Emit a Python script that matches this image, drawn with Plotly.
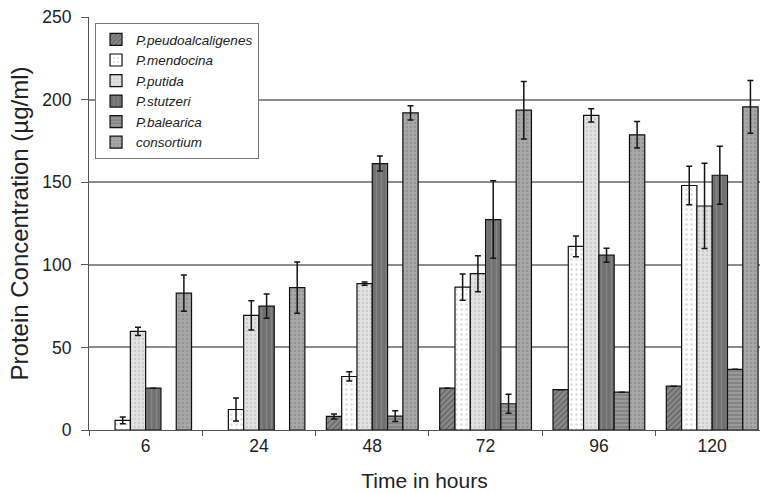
import plotly.graph_objects as go

hours = ["6", "24", "48", "72", "96", "120"]
series_names = ["P.peudoalcaligenes", "P.mendocina", "P.putida", "P.stutzeri", "P.balearica", "consortium"]

pseudo = [None, None, 8.2, 25.3, 24.4, 26.5]
pseudo_err = [None, None, 1.5, None, None, None]
mendocina = [5.8, 12.4, 32.4, 86.5, 111.2, 148.0]
mendocina_err = [2.0, 7.0, 2.8, 8.0, 6.3, 11.7]
putida = [59.7, 69.4, 88.6, 94.6, 190.4, 135.6]
putida_err = [2.5, 8.9, 1.0, 10.9, 4.0, 25.8]
stutzeri = [25.3, 75.0, 161.3, 127.4, 105.8, 154.2]
stutzeri_err = [None, 7.4, 4.5, 23.5, 4.2, 17.5]
balearica = [None, None, 8.4, 15.9, 22.9, 36.7]
balearica_err = [None, None, 3.3, 5.8, None, None]
consortium = [82.9, 86.2, 192.0, 193.6, 178.7, 195.6]
consortium_err = [11.0, 15.5, 4.3, 17.4, 8.0, 16.0]

values = [pseudo, mendocina, putida, stutzeri, balearica, consortium]
errors = [pseudo_err, mendocina_err, putida_err, stutzeri_err, balearica_err, consortium_err]

styles = [
    dict(bg="#8a8a8a", fg="#3a3a3a", shape="/", size=4, solidity=0.35),
    dict(bg="#ffffff", fg="#b5b5b5", shape=".", size=5, solidity=0.2),
    dict(bg="#e2e2e2", fg="#b0b0b0", shape=".", size=4, solidity=0.25),
    dict(bg="#707070", fg="#9a9a9a", shape="|", size=5, solidity=0.3),
    dict(bg="#9a9a9a", fg="#5a5a5a", shape="-", size=4, solidity=0.35),
    dict(bg="#a8a8a8", fg="#808080", shape=".", size=4, solidity=0.3),
]

fig = go.Figure()
for name, vals, errs, st in zip(series_names, values, errors, styles):
    fig.add_trace(go.Bar(
        name=name, x=hours, y=vals,
        marker=dict(color=st["bg"],
                    line=dict(color="#111111", width=1.2),
                    pattern=dict(shape=st["shape"], fgcolor=st["fg"], bgcolor=st["bg"],
                                 size=st["size"], solidity=st["solidity"], fillmode="overlay")),
        error_y=dict(type="data", array=errs, visible=True, color="#151515",
                     thickness=1.5, width=3),
    ))

fig.update_layout(
    width=760, height=493,
    margin=dict(l=89, r=0, t=17, b=63),
    paper_bgcolor="white", plot_bgcolor="white",
    barmode="group", bargap=0.19, bargroupgap=0,
    font=dict(family="Liberation Sans, Arial, sans-serif", color="#222222"),
    showlegend=True,
    legend=dict(x=0.009, y=0.985, xanchor="left", yanchor="top",
                bgcolor="white", bordercolor="#777777", borderwidth=1,
                font=dict(size=13.5, style="italic", color="#222222"),
                tracegroupgap=0, itemwidth=30),
    xaxis=dict(type="category", range=[-0.5, 5.422], tickson="boundaries",
               automargin=False,
               ticks="outside", ticklen=5, tickcolor="#555555",
               showline=True, linecolor="#555555", linewidth=1.2,
               showgrid=False, tickfont=dict(size=17.5),
               title=dict(text="Time in hours", font=dict(size=21), standoff=18)),
    yaxis=dict(range=[0, 250], tickvals=[0, 50, 100, 150, 200, 250],
               automargin=False, ticklabelstandoff=6,
               ticks="outside", ticklen=7, tickcolor="#555555",
               showline=True, linecolor="#555555", linewidth=1.2,
               showgrid=True, gridcolor="#8c8c8c", gridwidth=1.5,
               zeroline=False, tickfont=dict(size=17.5),
               title=dict(text="Protein Concentration (µg/ml)", font=dict(size=24), standoff=6)),
)

fig.write_html("out.html", config={"displayModeBar": False},
               post_script="document.body.style.margin='0';document.body.style.overflow='hidden';")
